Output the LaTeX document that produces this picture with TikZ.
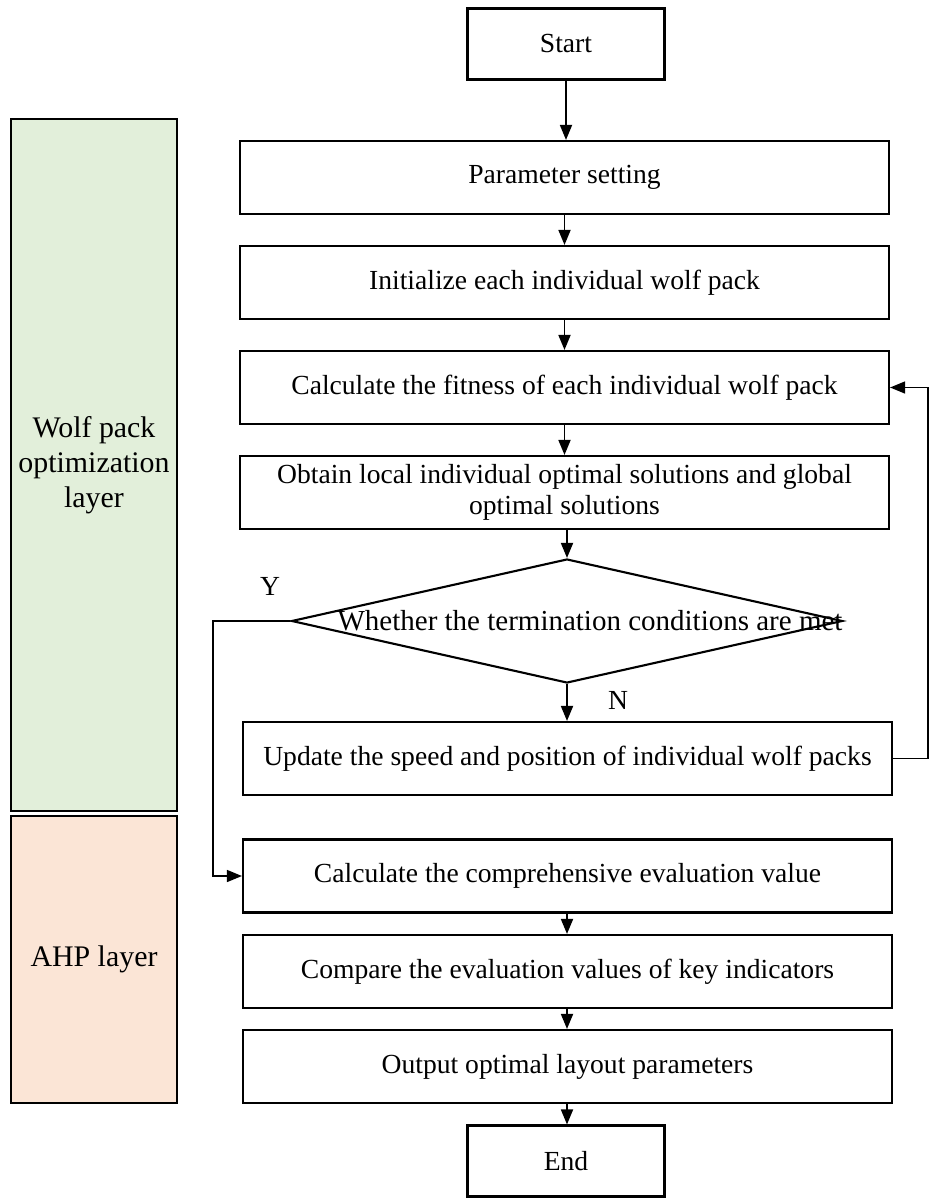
\documentclass[tikz,border=0pt]{standalone}
\usepackage{fontspec}
\setmainfont{Liberation Serif}
\usepackage{tikz}
\usetikzlibrary{arrows.meta, positioning, shapes.geometric, calc}
\definecolor{wolfgreen}{RGB}{226,239,218}
\definecolor{ahporange}{RGB}{251,229,214}

\begin{document}
\begin{tikzpicture}[
  every node/.style={font=\fontsize{15.7}{17.5}\selectfont},
  pbox/.style={draw, line width=1.2pt, minimum width=12.98cm, minimum height=1.46cm, align=center},
  tbox/.style={draw, line width=1.2pt, minimum width=3.94cm, minimum height=1.42cm},
  judge/.style={draw, line width=1.2pt, diamond, inner sep=0pt, minimum width=11.02cm, minimum height=2.48cm},
  layerbox/.style={draw, line width=1.4pt, minimum width=3.32cm, align=center,
                   font=\fontsize{17}{20}\selectfont},
  arr/.style={-{Triangle[length=0.3cm,width=0.24cm]}, line width=1pt},
  lnk/.style={-{Triangle[length=0.3cm,width=0.24cm]}, line width=0.8pt}
]
  \useasboundingbox (0,0) rectangle (18.56,-23.96);

  % Layers on the left
  \node[layerbox, fill=wolfgreen, minimum height=13.84cm] (wolf) at (1.88,-9.30)
       {Wolf pack\\optimization\\layer};
  \node[layerbox, fill=ahporange, minimum height=5.74cm] (ahp) at (1.88,-19.19)
       {AHP layer};

  % Flow
  \node[tbox]  (start)  at (11.32,-0.88)  {Start};
  \node[pbox]  (param)  at (11.29,-3.55)  {Parameter setting};
  \node[pbox]  (init)   at (11.29,-5.65)  {Initialize each individual wolf pack};
  \node[pbox]  (fit)    at (11.29,-7.75)  {Calculate the fitness of each individual wolf pack};
  \node[pbox]  (obtain) at (11.29,-9.85)
       {Obtain local individual optimal solutions and global\\optimal solutions};
  \node[judge] (judge)  at (11.34,-12.42)
       {\makebox[0pt]{\hspace*{0.92cm}\fontsize{16.5}{18}\selectfont Whether the termination conditions are met}};
  \node[pbox]  (update) at (11.35,-15.17) {Update the speed and position of individual wolf packs};
  \node[pbox]  (calc)   at (11.35,-17.52) {Calculate the comprehensive evaluation value};
  \node[pbox]  (comp)   at (11.35,-19.43) {Compare the evaluation values of key indicators};
  \node[pbox]  (output) at (11.35,-21.33) {Output optimal layout parameters};
  \node[tbox]  (end)    at (11.32,-23.22) {End};

  \draw[arr] (start) -- (start|-param.north);
  \draw[arr] (param) -- (param|-init.north);
  \draw[arr] (init) -- (init|-fit.north);
  \draw[arr] (fit) -- (fit|-obtain.north);
  \draw[arr] (obtain.south-|judge) -- (judge.north);
  \draw[arr] (judge.south) -- (judge.south|-update.north);
  \draw[arr] (calc.south-|judge) -- (judge|-comp.north);
  \draw[arr] (comp.south-|judge) -- (judge|-output.north);
  \draw[arr] (output.south-|judge) -- (judge|-end.north);

  % loop back and exit
  \draw[lnk] (update.east) -- ++(0.70,0) |- (fit.east);
  \draw[lnk] (judge.west) -- ++(-1.55,0) |- (calc.west);
  \node (ylab) at (5.40,-11.72) {Y};
  \node (nlab) at (12.36,-14.00) {N};

\end{tikzpicture}
\end{document}
